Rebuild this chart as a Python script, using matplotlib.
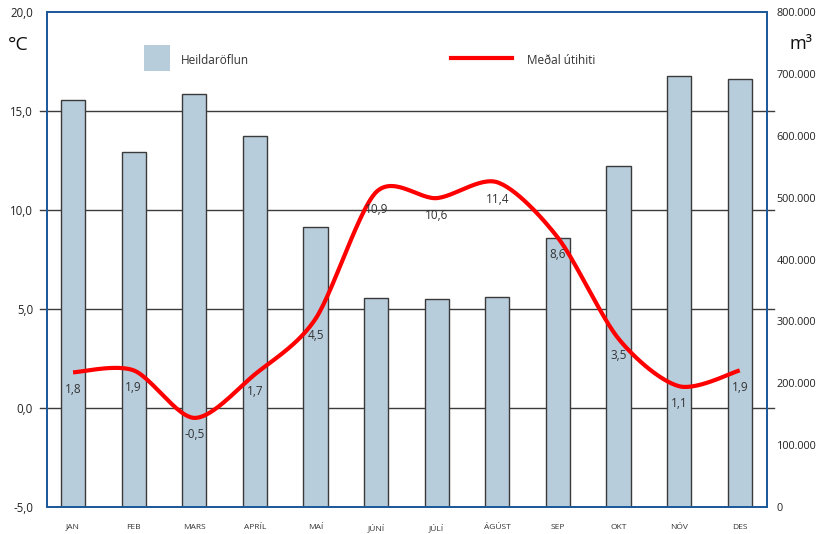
import numpy as np
import matplotlib
matplotlib.use("Agg")
import matplotlib.pyplot as plt
import matplotlib.transforms as mtransforms
from matplotlib.patches import Rectangle
from matplotlib.lines import Line2D

plt.rcParams['font.family'] = ['Open Sans', 'DejaVu Sans']

months = ["JAN", "FEB", "MARS", "APRÍL", "MAÍ", "JÚNÍ", "JÚLÍ", "ÁGÚST", "SEP", "OKT", "NÓV", "DES"]
flow_m3 = [658000, 573000, 668000, 599000, 453000, 337000, 336000, 339000, 435000, 551000, 697000, 692000]
temp_c = [1.8, 1.9, -0.5, 1.7, 4.5, 10.9, 10.6, 11.4, 8.6, 3.5, 1.1, 1.9]
left_ticks = [-5, 0, 5, 10, 15, 20]
right_ticks = [0, 100000, 200000, 300000, 400000, 500000, 600000, 700000, 800000]
grid_vals = [0, 5, 10, 15]

W, H = 821, 534
fig = plt.figure(figsize=(W / 100, H / 100), dpi=100)
ax = fig.add_axes([47 / W, (534 - 507) / H, (767 - 47) / W, (507 - 12) / H])
ax2 = ax.twinx()

x = np.arange(len(months))

# bars on right axis
ax2.bar(x, flow_m3, width=0.4, color="#b8cddc", edgecolor="#3a3a3a", linewidth=1.0, zorder=2)
ax2.set_ylim(0, 800000)
ax2.set_yticks(right_ticks)
ax2.set_yticklabels([f"{v:,}".replace(",", ".") for v in right_ticks], fontsize=7.8, color="#222222")
ax2.tick_params(axis='y', length=0, pad=7)

# gridlines (left-axis values) drawn beneath bars
trans = mtransforms.blended_transform_factory(ax2.transAxes, ax.transData)
for g in grid_vals:
    ax2.plot([-0.0097, 1.0097], [g, g], transform=trans, color="#3c3c3c", lw=1.0,
             zorder=0.5, clip_on=False)

# smoothed line on left axis (Bezier through points)
def smooth(xs, ys, n=30, k=1 / 7):
    xs = np.asarray(xs, float); ys = np.asarray(ys, float)
    px = np.concatenate([[xs[0]], xs, [xs[-1]]])
    py = np.concatenate([[ys[0]], ys, [ys[-1]]])
    ox, oy = [], []
    t = np.linspace(0, 1, n)
    for i in range(1, len(px) - 2):
        p0 = np.array([px[i], py[i]]); p3 = np.array([px[i + 1], py[i + 1]])
        c1 = p0 + (np.array([px[i + 1], py[i + 1]]) - np.array([px[i - 1], py[i - 1]])) * k
        c2 = p3 - (np.array([px[i + 2], py[i + 2]]) - p0) * k
        for tt in t:
            b = (1 - tt) ** 3 * p0 + 3 * (1 - tt) ** 2 * tt * c1 + 3 * (1 - tt) * tt ** 2 * c2 + tt ** 3 * p3
            ox.append(b[0]); oy.append(b[1])
    return ox, oy

sx, sy = smooth(x, temp_c)
ax.plot(sx, sy, color="#ff0000", lw=3.0, solid_capstyle='butt', zorder=5)
for xi, v in zip(x, temp_c):
    ax.annotate(f"{v:.1f}".replace(".", ","), (xi, v), xytext=(0, -17), textcoords="offset pixels",
                ha="center", va="center", fontsize=8.5, color="#333333", zorder=6)

ax.set_ylim(-5, 20)
ax.set_yticks(left_ticks)
ax.set_yticklabels([f"{v:.1f}".replace(".", ",") for v in left_ticks], fontsize=8.3, color="#222222")
ax.tick_params(axis='y', length=0, pad=10)
ax.set_xlim(-0.43, 11.45)
ax.set_xticks(x)
ax.set_xticklabels(months, fontsize=6, color="#333333")
ax.tick_params(axis='x', length=0, pad=12)

ax.set_zorder(ax2.get_zorder() + 1)
ax.patch.set_visible(False)

for a in (ax, ax2):
    for s in a.spines.values():
        s.set_color("#1d5a9a")
        s.set_linewidth(1.3)

# unit labels
fig.text(18 / W, 1 - 45 / H, "°C", fontsize=14, ha="center", va="center", color="#111111")
fig.text(801 / W, 1 - 44 / H, "m³", fontsize=13, ha="center", va="center", color="#111111")

# legend
fig.patches.append(Rectangle((144 / W, 1 - 71 / H), 26 / W, 26 / H, transform=fig.transFigure,
                             facecolor="#b8cddc", edgecolor="none"))
fig.text(181 / W, 1 - 60 / H, "Heildaröflun", fontsize=8.5, ha="left", va="center", color="#333333")
fig.lines.append(Line2D([451 / W, 512 / W], [1 - 58 / H, 1 - 58 / H], transform=fig.transFigure,
                        color="#ff0000", lw=3.0))
fig.text(527 / W, 1 - 60 / H, "Meðal útihiti", fontsize=8.5, ha="left", va="center", color="#333333")

fig.savefig("out.png", dpi=100)
